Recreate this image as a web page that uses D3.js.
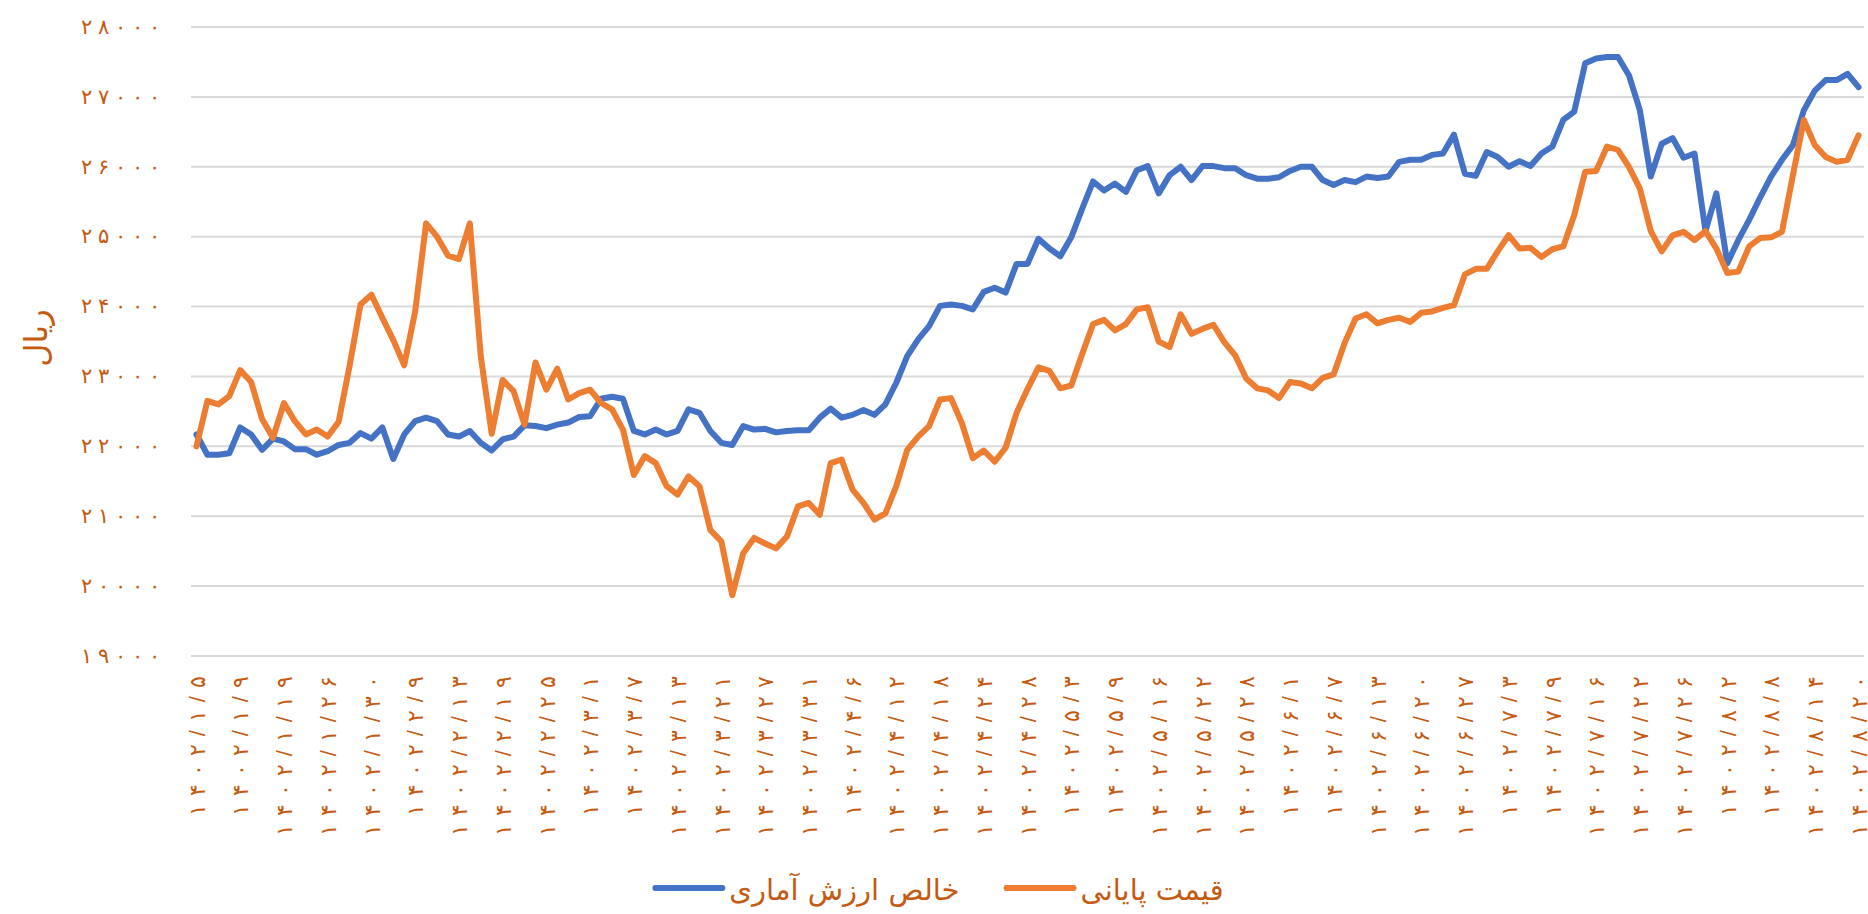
<!DOCTYPE html>
<html>
<head>
<meta charset="utf-8">
<script src="https://cdn.jsdelivr.net/npm/d3@7"></script>
<style>
  body { margin: 0; background: #fff; }
  svg { display: block; font-family: "DejaVu Sans", sans-serif; }
</style>
</head>
<body>
<svg id="chart" width="1868" height="914"></svg>
<script>
// blue series: net asset value
var netValue = [
  22170,21880,21880,21900,22270,22170,21950,22110,22070,21960,
  21960,21880,21930,22020,22050,22190,22110,22270,21820,22170,
  22360,22410,22360,22170,22140,22220,22050,21940,22100,22140,
  22300,22290,22260,22310,22340,22420,22430,22680,22710,22680,
  22220,22170,22240,22170,22220,22530,22480,22220,22050,22020,
  22290,22240,22250,22200,22220,22230,22230,22410,22540,22410,
  22450,22520,22450,22600,22910,23290,23530,23720,24010,24030,
  24010,23960,24210,24270,24200,24610,24610,24970,24830,24720,
  24990,25400,25790,25660,25760,25640,25950,26010,25620,25880,
  26000,25810,26010,26010,25980,25980,25880,25830,25830,25850,
  25940,26000,26000,25810,25740,25810,25780,25860,25840,25860,
  26070,26100,26100,26170,26190,26460,25900,25870,26210,26140,
  26000,26080,26010,26190,26290,26670,26790,27480,27550,27570,
  27570,27310,26810,25860,26330,26410,26130,26190,25080,25620,
  24620,24950,25240,25560,25860,26100,26310,26810,27090,27240,
  27240,27330,27140
];

// orange series: closing price
var closePrice = [
  22000,22650,22600,22720,23090,22920,22390,22120,22620,22360,
  22170,22240,22140,22350,23150,24030,24170,23840,23520,23160,
  23930,25190,25000,24730,24680,25190,23290,22180,22950,22790,
  22310,23200,22810,23110,22670,22760,22810,22620,22530,22240,
  21590,21860,21760,21430,21310,21570,21430,20800,20640,19870,
  20470,20690,20610,20540,20710,21140,21190,21020,21760,21810,
  21380,21190,20950,21040,21430,21950,22140,22290,22670,22690,
  22330,21830,21940,21780,21980,22480,22820,23130,23080,22830,
  22870,23320,23750,23810,23660,23750,23960,23990,23500,23420,
  23890,23610,23680,23740,23490,23300,22970,22830,22800,22690,
  22920,22900,22830,22980,23030,23480,23830,23890,23760,23810,
  23840,23780,23910,23930,23980,24020,24460,24540,24540,24790,
  25020,24830,24840,24710,24820,24860,25310,25930,25940,26290,
  26240,26000,25690,25080,24790,25020,25070,24950,25080,24830,
  24480,24500,24860,24980,24990,25070,25880,26670,26310,26140,
  26070,26100,26450
];

// one label every 4 trading days
var dateLabels = [
  '۱۴۰۲/۱/۵','۱۴۰۲/۱/۹','۱۴۰۲/۱/۱۹','۱۴۰۲/۱/۲۶','۱۴۰۲/۱/۳۰',
  '۱۴۰۲/۲/۹','۱۴۰۲/۲/۱۳','۱۴۰۲/۲/۱۹','۱۴۰۲/۲/۲۵','۱۴۰۲/۳/۱',
  '۱۴۰۲/۳/۷','۱۴۰۲/۳/۱۳','۱۴۰۲/۳/۲۱','۱۴۰۲/۳/۲۷','۱۴۰۲/۳/۳۱',
  '۱۴۰۲/۴/۶','۱۴۰۲/۴/۱۲','۱۴۰۲/۴/۱۸','۱۴۰۲/۴/۲۴','۱۴۰۲/۴/۲۸',
  '۱۴۰۲/۵/۳','۱۴۰۲/۵/۹','۱۴۰۲/۵/۱۶','۱۴۰۲/۵/۲۲','۱۴۰۲/۵/۲۸',
  '۱۴۰۲/۶/۱','۱۴۰۲/۶/۷','۱۴۰۲/۶/۱۳','۱۴۰۲/۶/۲۰','۱۴۰۲/۶/۲۷',
  '۱۴۰۲/۷/۳','۱۴۰۲/۷/۹','۱۴۰۲/۷/۱۶','۱۴۰۲/۷/۲۲','۱۴۰۲/۷/۲۶',
  '۱۴۰۲/۸/۲','۱۴۰۲/۸/۸','۱۴۰۲/۸/۱۴','۱۴۰۲/۸/۲۰'
];
var labelStep = 4;

var yTicks = [19000,20000,21000,22000,23000,24000,25000,26000,27000,28000];
var seriesNames = ['خالص ارزش آماری', 'قیمت پایانی'];
var seriesColors = ['#4472c4', '#ed7d31'];
var yTitle = 'ریال';

var textColor = '#c55a11';
var faDigits = '۰۱۲۳۴۵۶۷۸۹';
function toFa(n){
  return String(n).replace(/[0-9]/g, function(d){ return faDigits[+d]; });
}

// letter-spacing is ignored for arabic digits, so space them with tspans
function spaced(sel, str, gap){
  sel.text(null);
  str.split('').forEach(function(ch, k){
    sel.append('tspan').attr('dx', k ? gap : 0).text(ch);
  });
}

var margin = {left: 191, right: 4, top: 27, bottom: 258};
var width = 1868, height = 914;

var svg = d3.select('#chart');

var idx = d3.range(netValue.length);
var x = d3.scalePoint()
  .domain(idx)
  .range([margin.left, width - margin.right])
  .padding(0.5);

var y = d3.scaleLinear()
  .domain([19000, 28000])
  .range([height - margin.bottom, margin.top]);

// gridlines
svg.append('g')
  .attr('class', 'grid')
  .selectAll('line')
  .data(yTicks)
  .enter().append('line')
  .attr('x1', margin.left)
  .attr('x2', width - margin.right)
  .attr('y1', function(d){ return y(d); })
  .attr('y2', function(d){ return y(d); })
  .attr('stroke', '#d9d9d9')
  .attr('stroke-width', 2);

// y axis labels
var yAxis = d3.axisLeft(y)
  .tickValues(yTicks)
  .tickSize(0)
  .tickPadding(0);

var gy = svg.append('g')
  .attr('transform', 'translate(' + (margin.left - 31) + ',0)')
  .call(yAxis);
gy.select('.domain').remove();
gy.selectAll('text')
  .attr('fill', textColor)
  .attr('font-size', 21)
  .attr('dy', '0.3em')
  .each(function(d){ spaced(d3.select(this), toFa(d), 6); });

// x axis labels, rotated
var xAxis = d3.axisBottom(x)
  .tickValues(idx.filter(function(i){ return i % labelStep === 0; }))
  .tickSize(0);

var gx = svg.append('g')
  .attr('transform', 'translate(0,' + (height - margin.bottom) + ')')
  .call(xAxis);
gx.select('.domain').remove();
gx.selectAll('text')
  .attr('fill', textColor)
  .attr('font-size', 22)
  .attr('text-anchor', 'end')
  .attr('transform', 'rotate(-90)')
  .attr('x', -20)
  .attr('y', 0)
  .attr('dy', '0.35em')
  .each(function(i){ spaced(d3.select(this), dateLabels[i / labelStep], 8); });

// y title
svg.append('text')
  .attr('transform', 'translate(36,338) rotate(-90)')
  .attr('text-anchor', 'middle')
  .attr('dy', '0.35em')
  .attr('fill', textColor)
  .attr('font-size', 32)
  .text(yTitle);

// lines
var line = d3.line()
  .x(function(d, i){ return x(i); })
  .y(function(d){ return y(d); });

var series = [netValue, closePrice];
svg.append('g')
  .selectAll('path')
  .data(series)
  .enter().append('path')
  .attr('d', line)
  .attr('fill', 'none')
  .attr('stroke', function(d, i){ return seriesColors[i]; })
  .attr('stroke-width', 6)
  .attr('stroke-linejoin', 'round')
  .attr('stroke-linecap', 'round');

// legend: swatch then label, centred under the chart
var legend = svg.append('g').attr('class', 'legend');
var swatchW = 73, swatchGap = 4, itemGap = 44, legendCx = 938, legendY = 888;
var items = legend.selectAll('g')
  .data(seriesNames)
  .enter().append('g');
items.append('text')
  .attr('fill', textColor)
  .attr('font-size', 29)
  .attr('text-anchor', 'middle')
  .attr('dy', '0.35em')
  .text(function(d){ return d; });

var widths = [];
items.each(function(){ widths.push(d3.select(this).select('text').node().getComputedTextLength()); });
var total = d3.sum(widths) + seriesNames.length * (swatchW + swatchGap) + itemGap * (seriesNames.length - 1);
var cursor = legendCx - total / 2;
items.each(function(d, i){
  var g = d3.select(this);
  g.insert('line', 'text')
    .attr('x1', cursor + 3)
    .attr('x2', cursor + swatchW - 3)
    .attr('y1', legendY)
    .attr('y2', legendY)
    .attr('stroke', seriesColors[i])
    .attr('stroke-width', 6)
    .attr('stroke-linecap', 'round');
  g.select('text')
    .attr('x', cursor + swatchW + swatchGap + widths[i] / 2)
    .attr('y', legendY + 2);
  cursor += swatchW + swatchGap + widths[i] + itemGap;
});
</script>
</body>
</html>
